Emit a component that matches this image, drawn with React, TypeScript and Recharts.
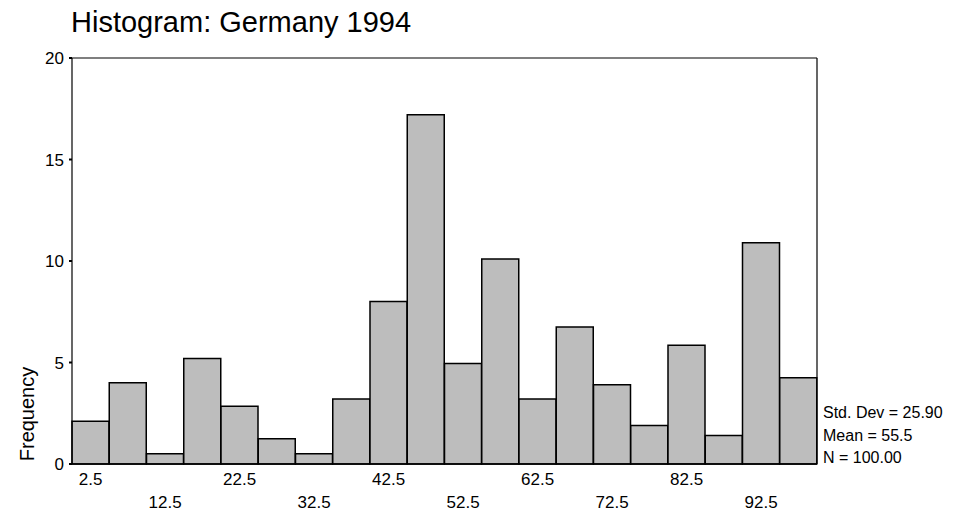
import { BarChart, Bar, XAxis, YAxis } from "recharts";

const binCenters = [
  "2.5", "7.5", "12.5", "17.5", "22.5", "27.5", "32.5", "37.5", "42.5", "47.5",
  "52.5", "57.5", "62.5", "67.5", "72.5", "77.5", "82.5", "87.5", "92.5", "97.5",
];
const frequencies = [
  2.1, 4.0, 0.5, 5.2, 2.85, 1.25, 0.5, 3.2, 8.0, 17.2,
  4.95, 10.1, 3.2, 6.75, 3.9, 1.9, 5.85, 1.4, 10.9, 4.25,
];
const yTicks = [0, 5, 10, 15, 20];
const stats = ["Std. Dev = 25.90", "Mean = 55.5", "N = 100.00"];

const data = binCenters.map((c, i) => ({ bin: c, freq: frequencies[i] }));

const FONT = "'Liberation Sans', Arial, sans-serif";

function BinTick({ x, y, payload, index }: any) {
  // every second bin gets a label, alternating between two rows
  if (index % 2 !== 0) return null;
  const row = (index / 2) % 2;
  return (
    <text x={x} y={y + (row === 0 ? 13 : 36)} textAnchor="middle" fontSize={17} fontFamily={FONT} fill="#000">
      {payload.value}
    </text>
  );
}

export default function App() {
  return (
    <div style={{ position: "absolute", left: 0, top: 0, width: 960, height: 518, background: "#fff", fontFamily: FONT }}>
      <div style={{ position: "absolute", left: 71, top: 6, fontSize: 29, color: "#000", whiteSpace: "nowrap" }}>
        Histogram: Germany 1994
      </div>
      <BarChart
        width={960}
        height={518}
        data={data}
        margin={{ top: 57, right: 142, left: 0, bottom: 0 }}
        barCategoryGap={0}
      >
        <XAxis
          dataKey="bin"
          height={54}
          interval={0}
          tick={<BinTick />}
          tickLine={false}
          axisLine={{ stroke: "#000", strokeWidth: 1.5 }}
        />
        <XAxis xAxisId="top" dataKey="bin" orientation="top" height={1} tick={false} tickLine={false} axisLine={{ stroke: "#000", strokeWidth: 1.2 }} />
        <YAxis
          width={72}
          domain={[0, 20]}
          ticks={yTicks}
          tickSize={3}
          tickMargin={5}
          tick={{ fill: "#000", fontSize: 17, fontFamily: FONT }}
          tickLine={{ stroke: "#000", strokeWidth: 2 }}
          axisLine={{ stroke: "#000", strokeWidth: 1.2 }}
          label={{
            content: () => (
              <text x={34} y={414} transform="rotate(-90 34 414)" textAnchor="middle" fontSize={20} fontFamily={FONT} fill="#000">
                Frequency
              </text>
            ),
          }}
        />
        <YAxis yAxisId="right" orientation="right" width={1} domain={[0, 20]} tick={false} tickLine={false} axisLine={{ stroke: "#000", strokeWidth: 1.2 }} />
        <Bar dataKey="freq" fill="#bdbdbd" stroke="#000" strokeWidth={1.5} isAnimationActive={false} />
      </BarChart>
      <div style={{ position: "absolute", left: 823, top: 402, fontSize: 16, lineHeight: "22.5px", color: "#000", whiteSpace: "nowrap" }}>
        {stats.map((s) => (
          <div key={s}>{s}</div>
        ))}
      </div>
    </div>
  );
}
